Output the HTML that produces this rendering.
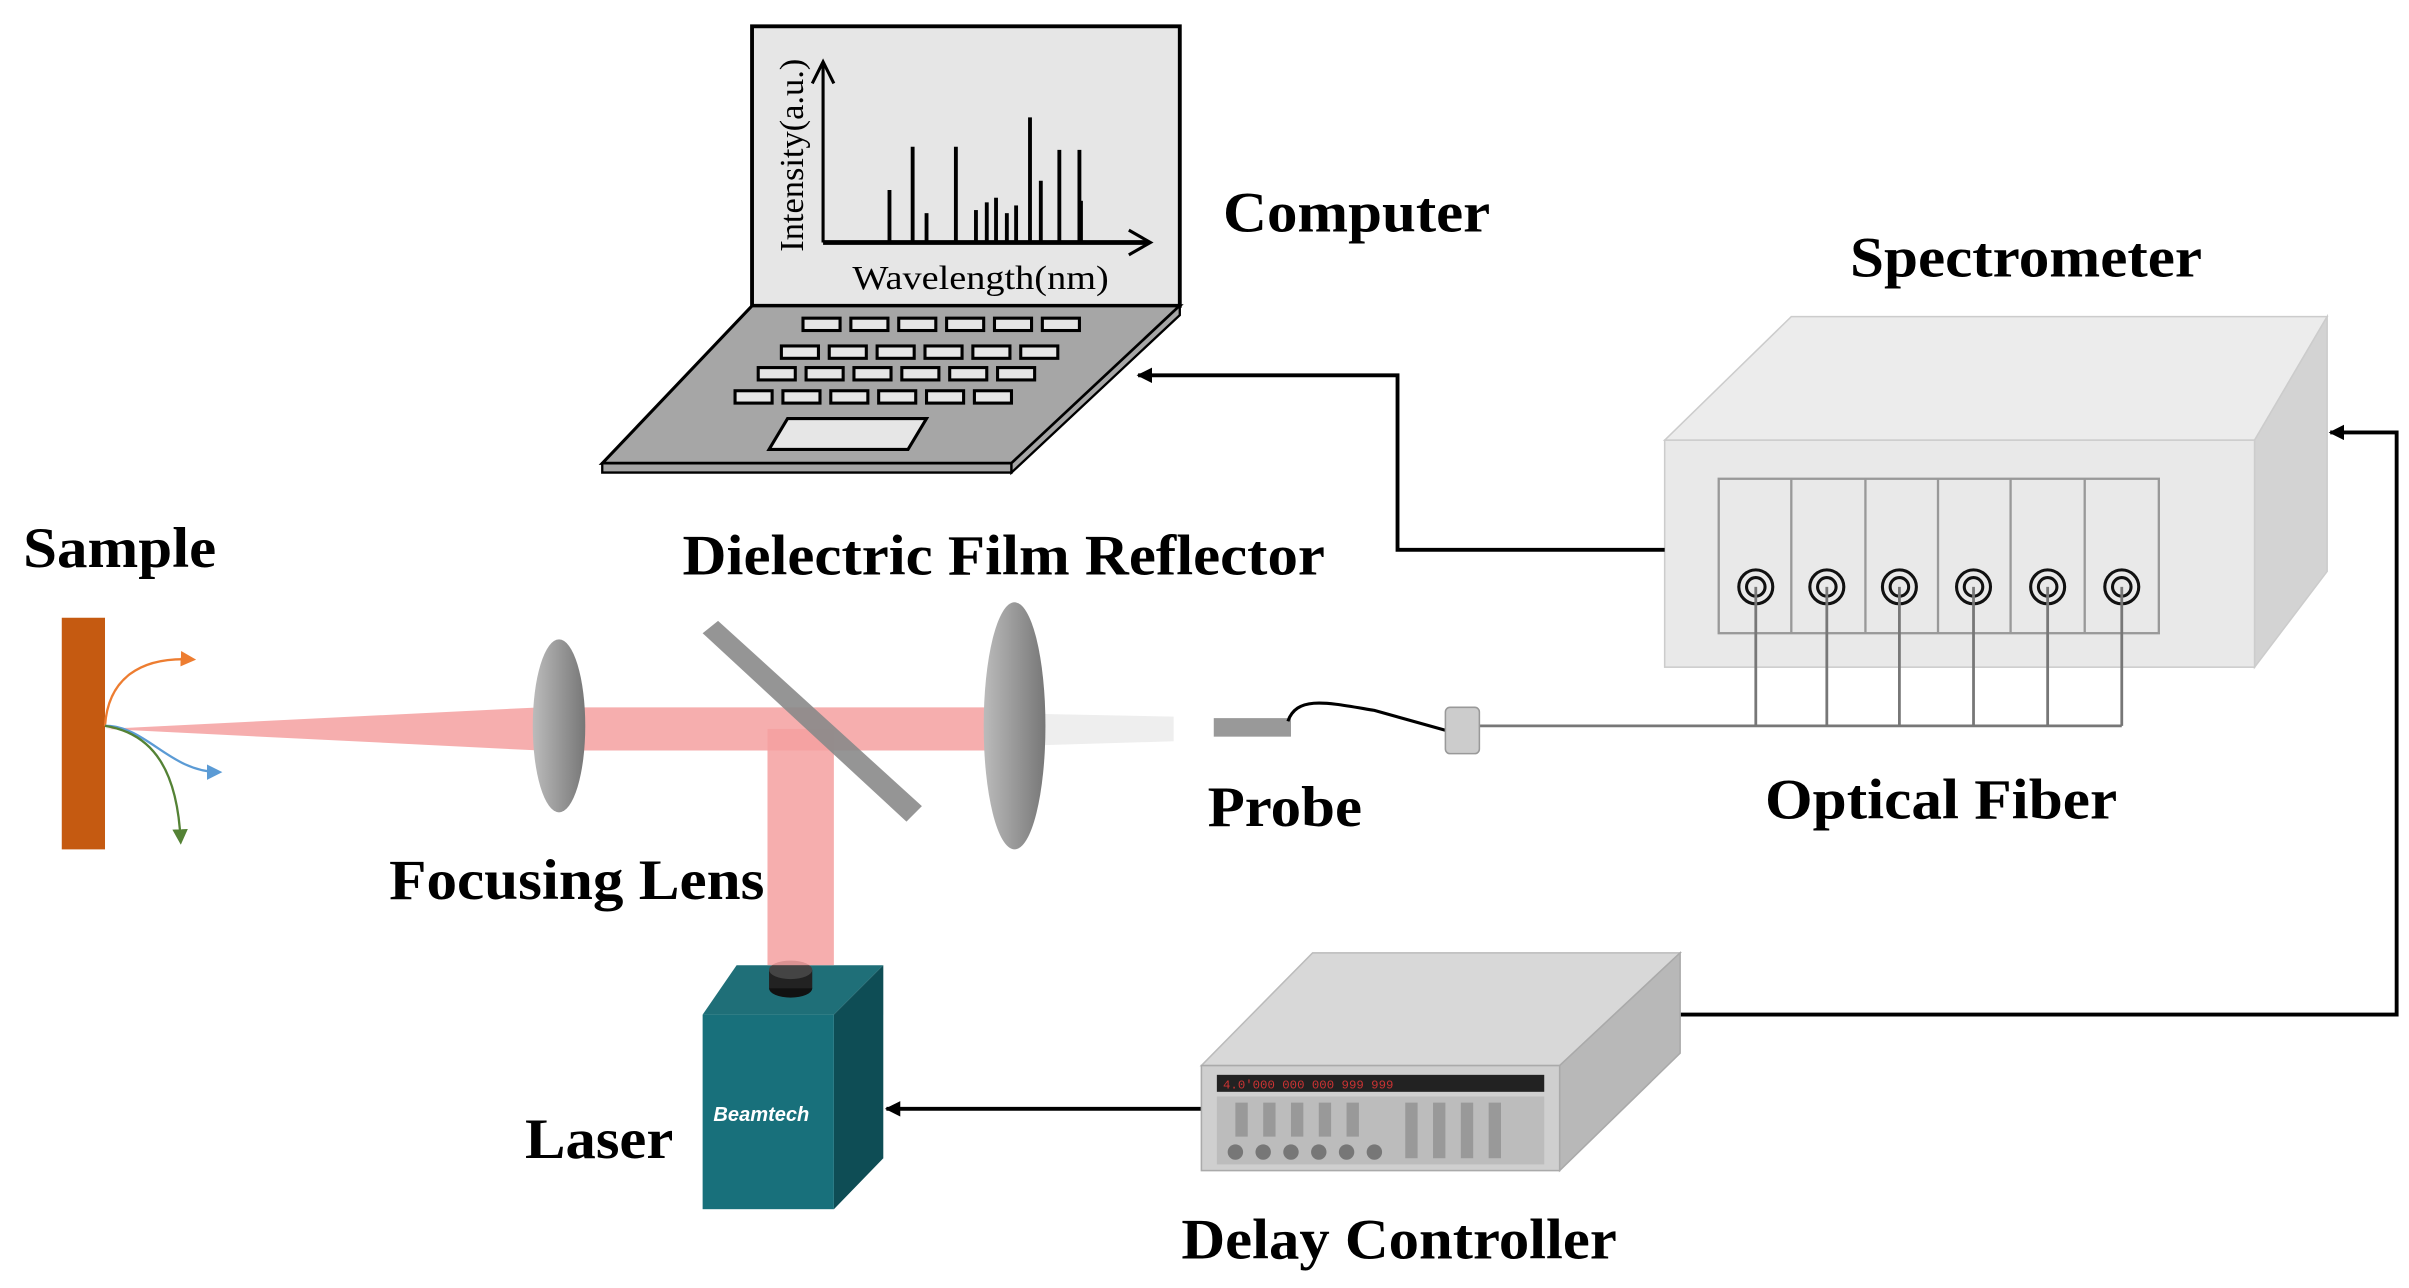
<!DOCTYPE html>
<html><head><meta charset="utf-8"><style>html,body{margin:0;padding:0;background:#fff}svg{display:block}</style></head>
<body>
<svg width="2409" height="1288" viewBox="0 0 1560 834" xmlns="http://www.w3.org/2000/svg" font-family="Liberation Serif, serif">
<defs>
<marker id="ah" markerWidth="10" markerHeight="10" refX="9" refY="5" orient="auto" markerUnits="userSpaceOnUse"><path d="M0,0 L10,5 L0,10 Z" fill="#000"/></marker>
<marker id="oa" markerWidth="10" markerHeight="10" refX="8" refY="5" orient="auto" markerUnits="userSpaceOnUse"><path d="M0,0 L10,5 L0,10 Z" fill="#ed7d31"/></marker>
<marker id="ba" markerWidth="10" markerHeight="10" refX="8" refY="5" orient="auto" markerUnits="userSpaceOnUse"><path d="M0,0 L10,5 L0,10 Z" fill="#5b9bd5"/></marker>
<marker id="ga" markerWidth="10" markerHeight="10" refX="8" refY="5" orient="auto" markerUnits="userSpaceOnUse"><path d="M0,0 L10,5 L0,10 Z" fill="#548235"/></marker>
<linearGradient id="lens" x1="0" x2="1"><stop offset="0" stop-color="#bbb"/><stop offset="0.5" stop-color="#999"/><stop offset="1" stop-color="#777"/></linearGradient>
</defs>
<!-- Laptop -->
<rect x="487" y="17" width="277" height="181" fill="#e6e6e6" stroke="#000" stroke-width="2.5"/>
<path d="M487,198 L764,198 L655,300 L390,300 Z" fill="#a6a6a6" stroke="#000" stroke-width="2"/>
<path d="M390,300 L655,300 L655,306 L390,306 Z" fill="#a6a6a6" stroke="#000" stroke-width="1.5"/>
<path d="M655,300 L764,198 L764,204 L655,306 Z" fill="#a6a6a6" stroke="#000" stroke-width="1.5"/>
<g fill="#e6e6e6" stroke="#000" stroke-width="2">
<g transform="translate(520,206)"><rect x="0" y="0" width="24" height="8"/><rect x="31" y="0" width="24" height="8"/><rect x="62" y="0" width="24" height="8"/><rect x="93" y="0" width="24" height="8"/><rect x="124" y="0" width="24" height="8"/><rect x="155" y="0" width="24" height="8"/></g>
<g transform="translate(506,224)"><rect x="0" y="0" width="24" height="8"/><rect x="31" y="0" width="24" height="8"/><rect x="62" y="0" width="24" height="8"/><rect x="93" y="0" width="24" height="8"/><rect x="124" y="0" width="24" height="8"/><rect x="155" y="0" width="24" height="8"/></g>
<g transform="translate(491,238)"><rect x="0" y="0" width="24" height="8"/><rect x="31" y="0" width="24" height="8"/><rect x="62" y="0" width="24" height="8"/><rect x="93" y="0" width="24" height="8"/><rect x="124" y="0" width="24" height="8"/><rect x="155" y="0" width="24" height="8"/></g>
<g transform="translate(476,253)"><rect x="0" y="0" width="24" height="8"/><rect x="31" y="0" width="24" height="8"/><rect x="62" y="0" width="24" height="8"/><rect x="93" y="0" width="24" height="8"/><rect x="124" y="0" width="24" height="8"/><rect x="155" y="0" width="24" height="8"/></g>
<path d="M510,271 L600,271 L588,291 L498,291 Z"/>
</g>
<!-- chart -->
<line x1="533" y1="157" x2="533" y2="42" stroke="#000" stroke-width="2"/>
<path d="M526,54 L533,40 L540,54" fill="none" stroke="#000" stroke-width="2"/>
<line x1="533" y1="157" x2="744" y2="157" stroke="#000" stroke-width="3"/>
<path d="M731,149 L745,157 L731,165" fill="none" stroke="#000" stroke-width="2"/>
<g stroke="#000" stroke-width="2.5">
<line x1="576" y1="157" x2="576" y2="123"/><line x1="591" y1="157" x2="591" y2="95"/><line x1="600" y1="157" x2="600" y2="138"/><line x1="619" y1="157" x2="619" y2="95"/><line x1="632" y1="157" x2="632" y2="136"/><line x1="639" y1="157" x2="639" y2="131"/><line x1="645" y1="157" x2="645" y2="128"/><line x1="652" y1="157" x2="652" y2="138"/><line x1="658" y1="157" x2="658" y2="133"/><line x1="667" y1="157" x2="667" y2="76"/><line x1="674" y1="157" x2="674" y2="117"/><line x1="686" y1="157" x2="686" y2="97"/><line x1="699" y1="157" x2="699" y2="97"/><line x1="700" y1="157" x2="700" y2="130"/>
</g>
<text x="552" y="187" font-size="22" textLength="166" lengthAdjust="spacingAndGlyphs">Wavelength(nm)</text>
<text transform="translate(520,163) rotate(-90)" font-size="22" textLength="125" lengthAdjust="spacingAndGlyphs">Intensity(a.u.)</text>
<!-- labels -->
<g font-weight="bold" font-size="37" fill="#000">
<text x="792" y="150" textLength="173" lengthAdjust="spacingAndGlyphs">Computer</text>
<text x="1198" y="179" textLength="228" lengthAdjust="spacingAndGlyphs">Spectrometer</text>
<text x="15" y="367" textLength="125" lengthAdjust="spacingAndGlyphs">Sample</text>
<text x="442" y="372" textLength="416" lengthAdjust="spacingAndGlyphs">Dielectric Film Reflector</text>
<text x="252" y="582" textLength="243" lengthAdjust="spacingAndGlyphs">Focusing Lens</text>
<text x="782" y="535" textLength="100" lengthAdjust="spacingAndGlyphs">Probe</text>
<text x="1143" y="530" textLength="228" lengthAdjust="spacingAndGlyphs">Optical Fiber</text>
<text x="340" y="750" textLength="96" lengthAdjust="spacingAndGlyphs">Laser</text>
<text x="765" y="815" textLength="282" lengthAdjust="spacingAndGlyphs">Delay Controller</text>
</g>
<!-- Spectrometer -->
<path d="M1078,285 L1160,205 L1507,205 L1460,285 Z" fill="#ececec" stroke="#ccc"/>
<path d="M1460,285 L1507,205 L1507,370 L1460,432 Z" fill="#d3d3d3" stroke="#ccc"/>
<rect x="1078" y="285" width="382" height="147" fill="#e9e9e9" stroke="#ccc"/>
<rect x="1113" y="310" width="285" height="100" fill="#e9e9e9" stroke="#999" stroke-width="1.5"/>
<g stroke="#999" stroke-width="1.5"><line x1="1160" y1="310" x2="1160" y2="410"/><line x1="1208" y1="310" x2="1208" y2="410"/><line x1="1255" y1="310" x2="1255" y2="410"/><line x1="1302" y1="310" x2="1302" y2="410"/><line x1="1350" y1="310" x2="1350" y2="410"/></g>
<g fill="none" stroke="#111" stroke-width="2">
<circle cx="1137" cy="380" r="11"/><circle cx="1137" cy="380" r="6"/>
<circle cx="1183" cy="380" r="11"/><circle cx="1183" cy="380" r="6"/>
<circle cx="1230" cy="380" r="11"/><circle cx="1230" cy="380" r="6"/>
<circle cx="1278" cy="380" r="11"/><circle cx="1278" cy="380" r="6"/>
<circle cx="1326" cy="380" r="11"/><circle cx="1326" cy="380" r="6"/>
<circle cx="1374" cy="380" r="11"/><circle cx="1374" cy="380" r="6"/>
</g>
<g stroke="#777" stroke-width="1.8" fill="none">
<path d="M1137,380 V470 M1183,380 V470 M1230,380 V470 M1278,380 V470 M1326,380 V470 M1374,380 V470"/>
<line x1="957" y1="470" x2="1374" y2="470"/>
</g>
<!-- probe -->
<rect x="786" y="465" width="50" height="12" fill="#999"/>
<path d="M834,467 C840,450 860,455 890,460 L940,474" fill="none" stroke="#000" stroke-width="2"/>
<rect x="936" y="458" width="22" height="30" rx="3" fill="#ccc" stroke="#999"/>
<!-- arrows -->
<path d="M1078,356 H905 V243 H737" fill="none" stroke="#000" stroke-width="2.5" marker-end="url(#ah)"/>
<path d="M1088,657 H1552 V280 H1509" fill="none" stroke="#000" stroke-width="2.5" marker-end="url(#ah)"/>
<path d="M778,718 H574" fill="none" stroke="#000" stroke-width="2.5" marker-end="url(#ah)"/>
<!-- Delay controller -->
<path d="M778,690 L850,617 L1088,617 L1010,690 Z" fill="#d8d8d8" stroke="#bbb"/>
<path d="M1010,690 L1088,617 L1088,682 L1010,758 Z" fill="#b8b8b8" stroke="#aaa"/>
<rect x="778" y="690" width="232" height="68" fill="#cfcfcf" stroke="#aaa"/>
<rect x="788" y="696" width="212" height="11" fill="#222"/>
<g fill="#c33" font-size="8" font-family="Liberation Mono, monospace"><text x="792" y="705">4.0'000 000 000 999 999</text></g>
<rect x="788" y="710" width="212" height="44" fill="#bcbcbc"/>
<g fill="#777"><circle cx="800" cy="746" r="5"/><circle cx="818" cy="746" r="5"/><circle cx="836" cy="746" r="5"/><circle cx="854" cy="746" r="5"/><circle cx="872" cy="746" r="5"/><circle cx="890" cy="746" r="5"/></g>
<g fill="#999"><rect x="800" y="714" width="8" height="22"/><rect x="818" y="714" width="8" height="22"/><rect x="836" y="714" width="8" height="22"/><rect x="854" y="714" width="8" height="22"/><rect x="872" y="714" width="8" height="22"/><rect x="910" y="714" width="8" height="36"/><rect x="928" y="714" width="8" height="36"/><rect x="946" y="714" width="8" height="36"/><rect x="964" y="714" width="8" height="36"/></g>
<!-- Laser -->
<path d="M455,657 L477,625 L572,625 L540,657 Z" fill="#1f6f78"/>
<path d="M540,657 L572,625 L572,750 L540,783 Z" fill="#0e4d55"/>
<rect x="455" y="657" width="85" height="126" fill="#18707b"/>
<ellipse cx="512" cy="640" rx="14" ry="6" fill="#111"/>
<rect x="498" y="628" width="28" height="12" fill="#222"/>
<ellipse cx="512" cy="628" rx="14" ry="6" fill="#444"/>
<text x="462" y="726" font-size="13" font-weight="bold" font-style="italic" fill="#fff" font-family="Liberation Sans, sans-serif">Beamtech</text>
<!-- beam -->
<path d="M68,472 L350,458 L660,458 L660,486 L350,486 Z" fill="#f4a0a0" opacity="0.85"/>
<rect x="497" y="472" width="43" height="153" fill="#f4a0a0" opacity="0.85"/>
<path d="M660,462 L760,464 L760,480 L660,483 Z" fill="#eee"/>
<!-- lenses -->
<ellipse cx="362" cy="470" rx="17" ry="56" fill="url(#lens)"/>
<ellipse cx="657" cy="470" rx="20" ry="80" fill="url(#lens)"/>
<path d="M455,410 L465,402 L597,522 L587,532 Z" fill="#8a8a8a" opacity="0.9"/>
<!-- sample -->
<rect x="40" y="400" width="28" height="150" fill="#c55a11"/>
<path d="M68,470 C70,440 90,425 125,427" fill="none" stroke="#ed7d31" stroke-width="1.5" marker-end="url(#oa)"/>
<path d="M68,470 C95,470 110,500 142,500" fill="none" stroke="#5b9bd5" stroke-width="1.5" marker-end="url(#ba)"/>
<path d="M68,470 C100,475 115,500 117,545" fill="none" stroke="#548235" stroke-width="1.5" marker-end="url(#ga)"/>
</svg>
</body></html>
